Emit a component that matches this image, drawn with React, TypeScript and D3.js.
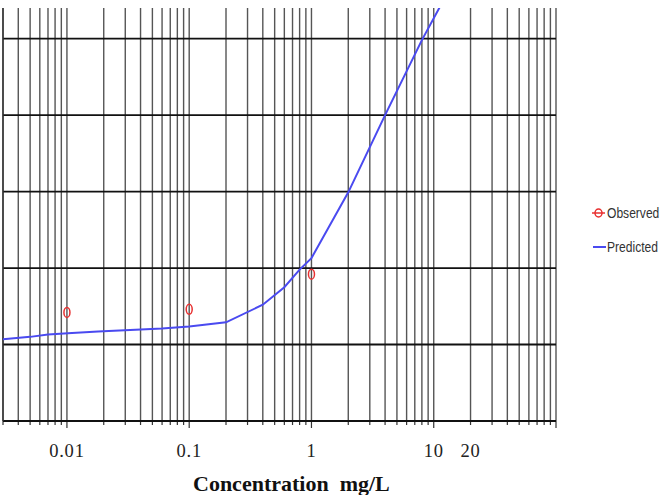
import React from "react";
import * as d3 from "d3";

const W = 668;
const H = 495;

const predX = [0.003, 0.005, 0.007, 0.011, 0.018, 0.06, 0.1, 0.2, 0.4, 0.6, 0.8, 1, 2, 4, 8, 12];
const predY = [1.07, 1.1, 1.13, 1.15, 1.17, 1.21, 1.235, 1.29, 1.52, 1.75, 1.98, 2.13, 2.99, 4.0, 4.98, 5.5];

const obsX = [0.01, 0.1, 1];
const obsY = [1.42, 1.46, 1.92];

const tickVals = [0.01, 0.1, 1, 10, 20];
const tickLabels = ["0.01", "0.1", "1", "10", "20"];
const yGrid = [0, 1, 2, 3, 4, 5];
const decades = [0.001, 0.01, 0.1, 1, 10, 100];

export default function App() {
  const x = d3.scaleLog().domain([0.003, 100]).range([3, 556]);
  const y = d3.scaleLinear().domain([0, 5.4]).range([421, 8]);
  const xGrid = x.ticks();
  const isDecade = (v: number) => decades.some((d) => Math.abs(v - d) / d < 1e-6);
  const line = d3
    .line<number>()
    .x((_, i) => x(predX[i]))
    .y((d) => y(d));
  const [x0, x1] = x.range();
  const [yb, yt] = y.range();

  return (
    <svg
      width={W}
      height={H}
      style={{ position: "absolute", left: 0, top: 0, background: "#fff" }}
    >
      <defs>
        <clipPath id="plot">
          <rect x={x0} y={yt} width={x1 - x0} height={yb - yt} />
        </clipPath>
      </defs>
      {xGrid.map((v, i) => (
        <g key={"g" + i}>
          <line x1={x(v)} x2={x(v)} y1={yt} y2={yb} stroke="#555" strokeWidth={1.4} />
          <line
            x1={x(v)}
            x2={x(v)}
            y1={yb}
            y2={yb + (isDecade(v) ? 7 : 4)}
            stroke="#333"
            strokeWidth={1.2}
          />
        </g>
      ))}
      {yGrid.map((v, i) => (
        <line key={"h" + i} x1={x0} x2={x1} y1={y(v)} y2={y(v)} stroke="#111" strokeWidth={1.8} />
      ))}
      <line x1={x0} x2={x0} y1={yt} y2={yb} stroke="#333" strokeWidth={1.4} />
      <g clipPath="url(#plot)">
        <path d={line(predY) || ""} fill="none" stroke="#4a4af0" strokeWidth={2} />
      </g>
      {obsX.map((v, i) => (
        <ellipse
          key={"o" + i}
          cx={x(v)}
          cy={y(obsY[i])}
          rx={3}
          ry={5}
          fill="none"
          stroke="#e83030"
          strokeWidth={1.5}
        />
      ))}
      {tickVals.map((v, i) => (
        <text
          key={"t" + i}
          x={x(v)}
          y={457}
          textAnchor="middle"
          fontFamily="Liberation Serif, serif"
          fontSize={18.5}
          letterSpacing={0.8}
          fill="#222"
        >
          {tickLabels[i]}
        </text>
      ))}
      <text
        x={193}
        y={491}
        fontFamily="Liberation Serif, serif"
        fontWeight="bold"
        fontSize={22}
        fill="#111"
        style={{ whiteSpace: "pre" }}
      >
        {"Concentration  mg/L"}
      </text>
      {/* legend */}
      <line x1={592} x2={605} y1={213} y2={213} stroke="#e83030" strokeWidth={1.5} />
      <ellipse cx={598.5} cy={213} rx={3.5} ry={4} fill="none" stroke="#e83030" strokeWidth={1.5} />
      <text
        transform="translate(607,218) scale(0.78,1)"
        fontFamily="Liberation Sans, Arial, sans-serif"
        fontSize={15.5}
        fill="#333"
      >
        Observed
      </text>
      <line x1={593} x2={606} y1={247} y2={247} stroke="#4a4af0" strokeWidth={2} />
      <text
        transform="translate(607,252) scale(0.78,1)"
        fontFamily="Liberation Sans, Arial, sans-serif"
        fontSize={15.5}
        fill="#333"
      >
        Predicted
      </text>
    </svg>
  );
}
